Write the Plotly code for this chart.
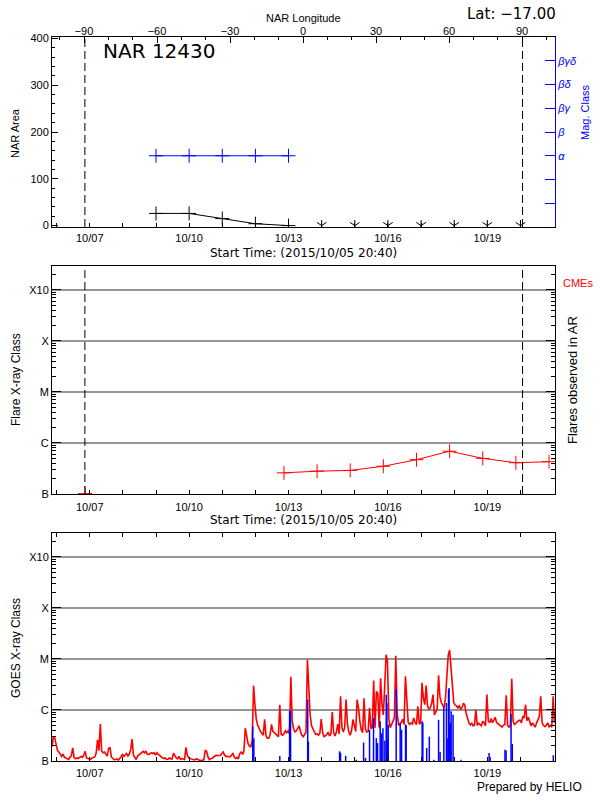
import plotly.graph_objects as go
import pandas as pd

# ---------------- data ----------------
start_time = "2015-10-05 20:40"
end_time = "2015-10-21 01:00"

# top panel: NAR area and magnetic class
nar_dates = ["2015-10-09", "2015-10-10", "2015-10-11", "2015-10-12", "2015-10-13"]
nar_area = [26, 26, 15, 4, 0]
mag_class = ["α", "α", "α", "α", "α"]
mag_class_labels = ["", "", "α", "β", "βγ", "βδ", "βγδ"]
behind_limb_dates = ["2015-10-14", "2015-10-15", "2015-10-16", "2015-10-17",
                     "2015-10-18", "2015-10-19", "2015-10-20"]
behind_limb_area = [0, 0, 0, 0, 0, 0, 0]
limb_dates = ["2015-10-06 20:30", "2015-10-20 01:30"]
lon_ticks = [-90, -60, -30, 0, 30, 60, 90]
lon_range = [-103.15, 103.56]

# middle panel: flares observed in AR (daily max, in units of B1 = 1e-7 W/m^2)
flare_dates = ["2015-10-06 20:40", "2015-10-07 20:40", "2015-10-08 20:40", "2015-10-09 20:40",
               "2015-10-10 20:40", "2015-10-11 20:40", "2015-10-12 20:40", "2015-10-13 20:40",
               "2015-10-14 20:40", "2015-10-15 20:40", "2015-10-16 20:40", "2015-10-17 20:40",
               "2015-10-18 20:40", "2015-10-19 20:40", "2015-10-20 20:40"]
flare_b = [1.02, None, None, None, None, None, 2.6, 2.8, 2.9, 3.5, 4.7, 6.9, 5.0, 4.1, 4.3]

# bottom panel: GOES X-ray flux, hourly from start_time, in units of B1 = 1e-7 W/m^2
goes_b = [
    1.9, 3.0, 2.8, 2.1, 1.6, 1.5, 1.35, 1.23, 1.37, 1.18,
    1.15, 1.12, 1.06, 1.18, 1.27, 1.8, 1.15, 1.1, 1.15, 1.12,
    1.2, 1.23, 1.18, 1.3, 1.55, 1.15, 1.12, 1.1, 1.08, 1.15,
    1.18, 1.2, 1.43, 2.6, 1.6, 5.3, 1.55, 1.45, 1.5, 1.33,
    1.25, 1.75, 1.85, 1.2, 1.1, 1.06, 1.07, 1.1, 1.04, 1.12,
    1.2, 1.37, 1.2, 1.33, 1.4, 1.25, 1.37, 1.67, 2.7, 1.3,
    1.15, 1.07, 1.25, 1.33, 1.37, 1.45, 1.55, 1.45, 1.55, 1.37,
    1.33, 1.4, 1.45, 1.4, 1.45, 1.3, 1.45, 1.33, 1.3, 1.2,
    1.15, 1.12, 1.15, 1.07, 1.08, 1.15, 1.1, 1.1, 1.43, 1.25,
    1.15, 1.1, 1.23, 1.08, 1.12, 1.1, 1.05, 1.85, 1.3, 1.15,
    1.12, 1.12, 1.06, 1.05, 1.08, 1.1, 1.06, 1.05, 1.01, 1.04,
    1.05, 1.6, 1.55, 1.2, 1.06, 1.12, 1.12, 1.2, 1.25, 1.3,
    1.27, 1.3, 1.3, 1.4, 1.5, 1.3, 1.23, 1.23, 1.2, 1.2,
    1.3, 1.4, 1.2, 1.12, 1.18, 1.1, 1.4, 1.5, 1.35, 1.55,
    4.4, 2.8, 2.2, 1.95, 1.9, 2.5, 30, 12.7, 6.5, 5.0,
    4.2, 3.8, 3.5, 3.2, 6.6, 3.1, 2.8, 2.8, 3.3, 5.2,
    3.8, 3.6, 3.4, 3.2, 3.0, 12.7, 3.3, 3.2, 3.4, 3.9,
    3.6, 3.9, 3.4, 45, 6.0, 4.3, 3.7, 3.9, 4.3, 4.9,
    3.8, 3.2, 3.0, 3.4, 3.7, 97, 25, 8, 4.9, 4.2,
    3.6, 3.3, 3.4, 3.2, 3.5, 6.6, 3.6, 3.0, 3.1, 3.3,
    3.7, 3.1, 3.4, 9.1, 3.6, 3.1, 3.7, 5.3, 3.4, 18.5,
    4.5, 3.7, 4.5, 16, 5.2, 3.7, 3.2, 4.0, 6.5, 4.5,
    3.8, 16, 11, 6, 4.1, 3.6, 17, 4.2, 3.7, 3.8,
    11, 4.3, 4.5, 38, 4.5, 23, 21, 4.5, 42, 13,
    8, 30, 121, 90, 6.5, 4.5, 5.2, 6.2, 7.0, 116,
    9, 5.0, 5.3, 5.7, 6.6, 5.2, 46, 12, 5.7, 5.2,
    5.6, 5.3, 7, 5.6, 5.2, 11.8, 5.3, 5.6, 34, 17,
    12.7, 30, 12, 10.5, 11, 13.5, 20, 8, 9.5, 10.5,
    48, 18, 14, 12.5, 11, 17, 60, 118, 150, 70,
    22, 14, 12.5, 12, 11, 12, 10.5, 11, 13.5, 12.5,
    8.5, 6.8, 5.6, 5.1, 5.6, 4.9, 5.0, 10.1, 5.0, 5.5,
    5.2, 4.9, 6.0, 5.6, 4.9, 20, 6.2, 5.6, 6.8, 5.6,
    6.3, 7.2, 5.7, 5.4, 5.0, 4.9, 4.6, 5.0, 5.2, 19.5,
    5.0, 4.6, 5.0, 41, 6.0, 5.2, 5.6, 6.0, 6.2, 6.3,
    5.6, 7.5, 7.0, 12.7, 6.2, 7.2, 5.6, 4.9, 5.6, 4.9,
    4.6, 5.6, 6.3, 7.5, 18.5, 5.6, 5.0, 4.7, 5.0, 5.6,
    4.7, 5.0, 4.6, 18.5, 5.6,
]

# bottom panel: flare event markers (hours after start_time, peak in B units)
event_hours = [145.4, 146.2, 165.0, 172.1, 172.8, 185.2, 185.7, 208.3, 209.0, 212.7,
               220.4, 225.7, 227.1, 230.0, 232.9, 234.9, 235.8, 237.7, 238.7, 239.7,
               241.1, 242.1, 242.6, 243.1, 243.5, 249.3, 252.2, 253.2, 256.1, 256.5,
               268.1, 268.6, 271.4, 273.3, 276.6, 280.0, 281.1, 283.8, 285.7, 286.2,
               287.2, 287.6, 288.1, 288.6, 289.1, 290.5, 296.3, 316.6, 317.3, 328.1,
               328.9, 332.5, 333.4, 363.1]
event_b = [4.8, 2.8, 1.25, 9.7, 9.5, 16, 2.4, 1.55, 1.45, 1.27,
           1.06, 2.3, 1.15, 4.1, 7.0, 2.8, 2.25, 6.0, 3.5, 4.4,
           2.5, 20, 13.7, 2.6, 5.2, 25, 5.6, 4.1, 5.2, 5.0,
           6.0, 5.6, 1.8, 3.0, 1.06, 6.4, 1.5, 11.3, 13.7, 2.8,
           25, 27, 5.2, 5.6, 9.4, 8.1, 1.06, 1.43, 1.2, 1.67,
           1.6, 8.3, 2.15, 1.3]

# axis ticks
day_ticks = ["2015-10-06", "2015-10-07", "2015-10-08", "2015-10-09", "2015-10-10",
             "2015-10-11", "2015-10-12", "2015-10-13", "2015-10-14", "2015-10-15",
             "2015-10-16", "2015-10-17", "2015-10-18", "2015-10-19", "2015-10-20"]
day_labels = ["", "10/07", "", "", "10/10", "", "", "10/13", "", "", "10/16", "", "", "10/19", ""]
class_ticks = [1e-7, 1e-6, 1e-5, 1e-4, 1e-3]
class_labels = ["B", "C", "M", "X", "X10"]

# ---------------- geometry helpers ----------------
W, H = 600, 800
def fx(p):
    return p / W
def fy(p):
    return 1 - p / H

XDOM = [fx(52), fx(555)]
TOPD = [fy(227), fy(37)]
MIDD = [fy(494), fy(266)]
BOTD = [fy(761), fy(533)]

FONT = "Liberation Sans, Arial, sans-serif"
BLUE = "#0000ff"
RED = "#ff0000"

fig = go.Figure()

# ---- top panel ----
fig.add_trace(go.Scatter(
    x=nar_dates, y=nar_area, xaxis="x", yaxis="y", mode="lines+markers",
    line=dict(color="black", width=1),
    marker=dict(symbol="cross-thin", size=10, line=dict(width=1, color="black")),
    showlegend=False, hoverinfo="skip"))
fig.add_trace(go.Scatter(
    x=behind_limb_dates, y=behind_limb_area, xaxis="x", yaxis="y", mode="markers",
    marker=dict(symbol="y-down", size=8, line=dict(width=1, color="black")),
    showlegend=False, hoverinfo="skip"))
fig.add_trace(go.Scatter(
    x=behind_limb_dates, y=behind_limb_area, xaxis="x", yaxis="y", mode="markers",
    marker=dict(symbol="line-ns", size=8, line=dict(width=1, color="black")),
    showlegend=False, hoverinfo="skip"))
mag_vals = [mag_class_labels.index(c) + 1 for c in mag_class]
fig.add_trace(go.Scatter(
    x=nar_dates, y=mag_vals, xaxis="x", yaxis="y2", mode="lines+markers",
    line=dict(color=BLUE, width=1),
    marker=dict(symbol="cross-thin", size=10, line=dict(width=1, color=BLUE)),
    showlegend=False, hoverinfo="skip"))
# longitude axis carrier (invisible)
fig.add_trace(go.Scatter(
    x=[lon_ticks[0], lon_ticks[-1]], y=[200, 200], xaxis="x4", yaxis="y", mode="markers",
    marker=dict(opacity=0), showlegend=False, hoverinfo="skip"))

# ---- middle panel ----
fig.add_trace(go.Scatter(
    x=flare_dates, y=[v * 1e-7 if v is not None else None for v in flare_b],
    xaxis="x2", yaxis="y3", mode="lines+markers",
    line=dict(color=RED, width=1),
    marker=dict(symbol="cross-thin", size=10, line=dict(width=1, color=RED)),
    connectgaps=False, showlegend=False, hoverinfo="skip"))

# ---- bottom panel ----
goes_times = pd.date_range(start_time, periods=len(goes_b), freq="1h")
fig.add_trace(go.Scatter(
    x=goes_times, y=[v * 1e-7 for v in goes_b], xaxis="x3", yaxis="y4", mode="lines",
    line=dict(color=RED, width=1.6), showlegend=False, hoverinfo="skip"))
t0 = pd.Timestamp(start_time)
ex, ey = [], []
for h, v in zip(event_hours, event_b):
    t = t0 + pd.Timedelta(hours=h)
    ex += [t, t, None]
    ey += [0.9e-7, v * 1e-7, None]
fig.add_trace(go.Scatter(
    x=ex, y=ey, xaxis="x3", yaxis="y4", mode="lines",
    line=dict(color=BLUE, width=1.5), showlegend=False, hoverinfo="skip"))

# dashed limb lines
for xr, yr in [("x", "y domain"), ("x2", "y3 domain")]:
    for d in limb_dates:
        fig.add_shape(type="line", xref=xr, yref=yr, x0=d, x1=d, y0=0, y1=1,
                      line=dict(color="black", width=1, dash="8px,4px"))

# ---------------- axes ----------------
tickfont = dict(family=FONT, size=11, color="black")

def date_axis(anchor, mirror, standoff):
    return dict(type="date", range=[start_time, end_time], domain=XDOM, anchor=anchor,
                tickmode="array", tickvals=day_ticks, ticktext=day_labels,
                ticks="inside", ticklen=4, tickcolor="black",
                showline=True, linecolor="black", linewidth=1, mirror=mirror,
                showgrid=False, zeroline=False, tickfont=tickfont, automargin=False,
                ticklabelstandoff=standoff)

minor_class = [m * d for d in class_ticks[:-1] for m in range(2, 10)] + [2e-3, 3e-3]

def class_axis(anchor, dom):
    return dict(type="log", range=[-7, -2.53], domain=dom, anchor=anchor,
                tickmode="array", tickvals=class_ticks, ticktext=class_labels,
                ticks="inside", ticklen=9, tickcolor="black",
                showline=True, linecolor="black", linewidth=1, mirror="ticks",
                showgrid=True, gridcolor="#959595", gridwidth=1.5, zeroline=False,
                minor=dict(tickvals=minor_class, ticks="inside", ticklen=4,
                           tickcolor="black", showgrid=False),
                tickfont=tickfont, automargin=False)

fig.update_layout(
    width=W, height=H,
    margin=dict(l=0, r=0, t=0, b=0),
    paper_bgcolor="white", plot_bgcolor="white",
    font=dict(family=FONT, size=11, color="black"),
    showlegend=False,
    xaxis=date_axis("y", False, 1),
    xaxis2=date_axis("y3", True, 3),
    xaxis3=date_axis("y4", "ticks", 2),
    xaxis4=dict(overlaying="x", side="top", anchor="y", range=lon_range,
                tickmode="array", tickvals=lon_ticks,
                ticks="inside", ticklen=6, tickcolor="black",
                minor=dict(tickvals=[v for v in range(-100, 101, 10)], ticks="inside",
                           ticklen=3, tickcolor="black"),
                showline=True, linecolor="black", linewidth=1,
                showgrid=False, zeroline=False, tickfont=tickfont, automargin=False,
                ticklabelstandoff=-3),
    yaxis=dict(domain=TOPD, anchor="x", range=[-3, 403],
               tickmode="array", tickvals=[0, 100, 200, 300, 400],
               ticks="inside", ticklen=6, tickcolor="black",
               minor=dict(tickvals=[v for v in range(20, 400, 20)], ticks="inside",
                          ticklen=3, tickcolor="black"),
               showline=True, linecolor="black", linewidth=1,
               showgrid=False, zeroline=False, tickfont=tickfont, automargin=False),
    yaxis2=dict(overlaying="y", side="right", anchor="x", range=[0, 8],
                tickmode="array", tickvals=list(range(1, 8)),
                ticktext=["<i>" + t + "</i>" if t else "" for t in mag_class_labels],
                ticks="inside", ticklen=10, tickcolor=BLUE,
                showline=True, linecolor=BLUE, linewidth=1,
                showgrid=False, zeroline=False,
                tickfont=dict(family=FONT, size=11, color=BLUE), automargin=False),
    yaxis3=class_axis("x2", MIDD),
    yaxis4=class_axis("x3", BOTD),
)

# ---------------- text ----------------
def ann(text, x, y, size=11, color="black", xanchor="center", yanchor="middle",
        angle=0, family=FONT):
    fig.add_annotation(text=text, x=fx(x), y=fy(y), xref="paper", yref="paper",
                       showarrow=False, xanchor=xanchor, yanchor=yanchor,
                       textangle=angle, font=dict(family=family, size=size, color=color))

ann("NAR Longitude", 303, 18, size=11)
ann("Lat: −17.00", 558, 14, size=15, xanchor="right", family="DejaVu Sans, sans-serif")
ann("NAR 12430", 101, 51, size=20, xanchor="left", family="DejaVu Sans, sans-serif")
ann("NAR Area", 15, 133, size=11, angle=-90)
ann("Mag. Class", 585, 112, size=11, color=BLUE, angle=-90)
ann("Start Time: (2015/10/05 20:40)", 303, 253, size=12, family="DejaVu Sans, sans-serif")
ann("Flare X-ray Class", 16, 380, size=12, angle=-90)
ann("Flares observed in AR", 572, 380, size=13, angle=-90)
ann("CMEs", 561, 283, size=11, color=RED, xanchor="left")
ann("Start Time: (2015/10/05 20:40)", 303, 520, size=12, family="DejaVu Sans, sans-serif")
ann("GOES X-ray Class", 16, 648, size=12, angle=-90)
ann("Prepared by HELIO", 584, 787, size=12, xanchor="right")

fig.write_html("out.html", include_plotlyjs=True, full_html=True,
               config={"displayModeBar": False},
               post_script="document.body.style.margin='0px';")
